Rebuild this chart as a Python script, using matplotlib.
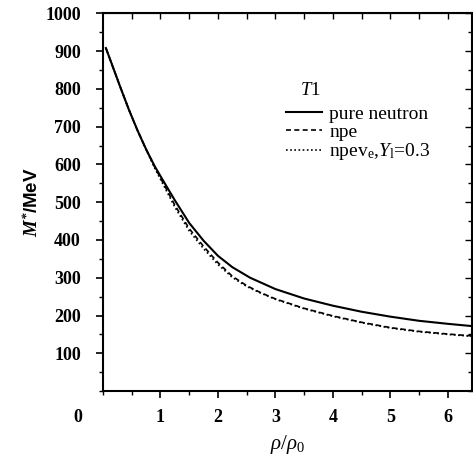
import matplotlib
matplotlib.use("Agg")
import matplotlib.pyplot as plt
import matplotlib.ticker as ticker

# 読み取り値 (rho/rho0, M*/MeV)
rho_pn = [0.05, 0.3, 0.45, 0.6, 0.75, 0.9, 1.05, 1.25, 1.5, 1.75, 2.0, 2.25, 2.56, 3.0, 3.5, 4.0, 4.5, 5.0, 5.5, 6.0, 6.42]
m_pn = [908, 805, 745, 690, 640, 595, 556, 505, 445, 398, 358, 328, 300, 270, 245, 226, 210, 197, 186, 178, 172]

rho_npe = [0.05, 0.3, 0.45, 0.6, 0.75, 0.9, 1.05, 1.25, 1.5, 1.75, 2.0, 2.25, 2.5, 2.75, 3.0, 3.5, 4.0, 4.5, 5.0, 5.5, 6.0, 6.42]
m_npe = [908, 805, 745, 690, 640, 593, 550, 492, 430, 383, 340, 304, 279, 260, 244, 219, 199, 182, 168, 158, 151, 146]

rho_npev = [0.05, 0.3, 0.45, 0.6, 0.75, 0.9, 1.05, 1.25, 1.5, 1.75, 2.0, 2.25, 2.5, 2.75, 3.0, 3.5, 4.0, 4.5, 5.0, 5.5, 6.0, 6.42]
m_npev = [908, 805, 745, 690, 639, 590, 546, 487, 424, 377, 335, 301, 277, 259, 243, 218, 198, 181, 167, 157, 150, 145]

x_ticks = [1, 2, 3, 4, 5, 6]
y_ticks = [100, 200, 300, 400, 500, 600, 700, 800, 900, 1000]

plt.rcParams['font.family'] = 'Liberation Serif'
plt.rcParams['mathtext.fontset'] = 'custom'
plt.rcParams['mathtext.rm'] = 'Liberation Serif'
plt.rcParams['mathtext.it'] = 'Liberation Serif:italic'
plt.rcParams['mathtext.bf'] = 'Liberation Serif:bold:italic'

fig = plt.figure(figsize=(4.73, 4.59), dpi=100)
ax = fig.add_axes([0.2178, 0.148, 0.78, 0.823])

ax.plot(rho_pn, m_pn, color='black', lw=1.5, ls='-', label='pure neutron')
ax.plot(rho_npe, m_npe, color='black', lw=1.2, ls=(0, (3, 2)), label='npe')
ax.plot(rho_npev, m_npev, color='black', lw=1.2, ls=(0, (1, 1.5)), label=r'npev$_\mathrm{e}$,$Y_\mathrm{l}$=0.3')

ax.set_xlim(0, 6.42)
ax.set_ylim(0, 1000)
ax.set_xticks(x_ticks)
ax.set_yticks(y_ticks)
ax.xaxis.set_minor_locator(ticker.MultipleLocator(0.5))
ax.yaxis.set_minor_locator(ticker.MultipleLocator(50))

for lab in ax.get_xticklabels() + ax.get_yticklabels():
    lab.set_fontsize(13)
    lab.set_fontweight('bold')

ax.tick_params(which='major', direction='out', length=5, width=1.2, pad=8)
ax.tick_params(which='minor', direction='out', length=3, width=1.0)
ax.tick_params(axis='y', which='major', pad=11)

# 上と右の目盛りは内向き
sec_x = ax.secondary_xaxis('top')
sec_x.set_xticks([0.5 * i for i in range(1, 13)])
sec_x.tick_params(direction='in', length=4, width=1.0, labeltop=False)
sec_y = ax.secondary_yaxis('right')
sec_y.set_yticks(y_ticks)
sec_y.yaxis.set_minor_locator(ticker.MultipleLocator(50))
sec_y.tick_params(which='major', direction='in', length=5, width=1.0, labelright=False)
sec_y.tick_params(which='minor', direction='in', length=3, width=1.0)

for sp in ax.spines.values():
    sp.set_linewidth(1.5)

ax.text(-0.068, -0.071, '0', transform=ax.transAxes, ha='center', va='center',
        fontsize=13, fontweight='bold')

ax.set_xlabel(r'$\rho/\rho_0$', fontsize=15, labelpad=5)
ax.set_ylabel(r'$\mathbf{M^{*}}$/MeV', family='Liberation Sans', fontsize=13.5,
              fontweight='bold', labelpad=2)

# 凡例タイトルは別テキストで置く
ax.text(0.561, 0.796, r'$T$1', transform=ax.transAxes, ha='center', va='center', fontsize=13.5)
leg = ax.legend(loc='upper left', bbox_to_anchor=(0.497, 0.757), frameon=False,
                fontsize=14, handlelength=1.85, handletextpad=0.35,
                labelspacing=0.03, borderpad=0, borderaxespad=0)

plt.savefig('out.png', dpi=100)
